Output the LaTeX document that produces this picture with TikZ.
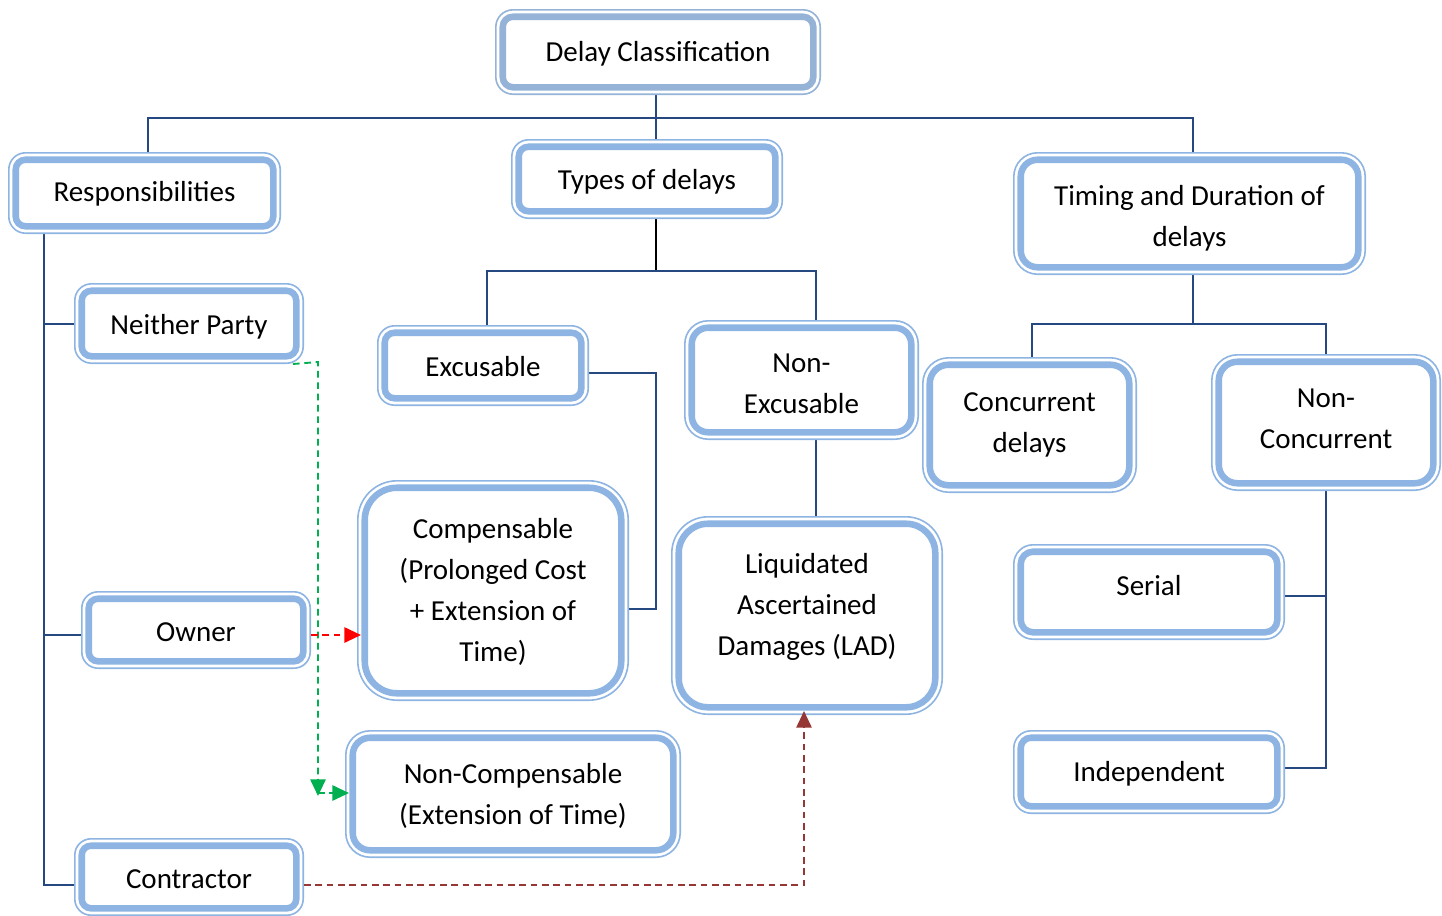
\documentclass[tikz,border=0pt]{standalone}
\usepackage{fontspec}
\setmainfont{Carlito}
\usetikzlibrary{arrows.meta,calc}
\pgfdeclarelayer{bg}
\pgfsetlayers{bg,main}
\definecolor{bandblue}{RGB}{141,180,226}
\definecolor{dcblue}{RGB}{149,179,215}
\definecolor{lineblue}{RGB}{38,72,128}
\definecolor{dgreen}{RGB}{0,176,80}
\definecolor{dred}{RGB}{149,55,53}
\newcommand\bandcol{bandblue}
\tikzset{
  bandcolor/.code={\renewcommand\bandcol{#1}},
  bx/.style n args={3}{
    draw=\bandcol, line width=1.2pt, fill=white, inner sep=0pt,
    minimum width={(#1-1.6)*0.75pt}, minimum height={(#2-1.6)*0.75pt},
    rounded corners={(#3-0.8)*0.75pt},
    path picture={\draw[draw=\bandcol, line width=4.9pt, rounded corners={(#3-7.75)*0.75pt}]
      ($(path picture bounding box.south west)+(5.2pt,5.2pt)$) rectangle
      ($(path picture bounding box.north east)-(5.2pt,5.2pt)$);}
  },
  txt/.style={inner sep=0pt, align=center, font=\fontsize{21.75pt}{30.75pt}\selectfont},
  conn/.style={draw=lineblue, line width=1.4pt},
  connk/.style={draw=black, line width=1.4pt},
  dasharrow/.style={line width=1.4pt, dash pattern=on 5pt off 3.5pt,
    -{Triangle[length=12.5pt,width=11.5pt]}, shorten >=-3pt}
}
\begin{document}
\begin{tikzpicture}[x=0.75pt, y=-0.75pt]
\useasboundingbox (0,0) rectangle (1442,915);

% boxes
\node[bandcolor=dcblue, bx={326}{86}{18}] (dc) at (658,52) {};
\node[bx={273}{82}{17.5}] (resp) at (144.5,193) {};
\node[bx={272}{80}{17.5}] (types) at (647,179) {};
\node[bx={353}{123}{24.5}] (timing) at (1189.5,213.5) {};
\node[bx={230}{81}{17.5}] (np) at (189,323.5) {};
\node[bx={212}{81}{17.5}] (exc) at (483,365.5) {};
\node[bx={235}{120}{24}] (nexc) at (801.5,380) {};
\node[bx={215}{136}{26.5}] (conc) at (1029.5,425) {};
\node[bx={230}{137}{26.5}] (nconc) at (1326,422.5) {};
\node[bx={272}{221}{40}] (comp) at (493,590.5) {};
\node[bx={272}{199}{37}] (lad) at (807,615.5) {};
\node[bx={272}{96}{20}] (serial) at (1149,592) {};
\node[bx={230}{78}{17}] (own) at (196,630) {};
\node[bx={336}{128}{25}] (ncomp) at (513,794) {};
\node[bx={272}{84}{18}] (indep) at (1149,772) {};
\node[bx={230}{78}{17}] (con) at (189,877) {};

% texts
\node[txt] (dc-t) at ($(dc)+(0,2)$) {Delay Classification};
\node[txt] (resp-t) at ($(resp)+(0,1)$) {Responsibilities};
\node[txt] (types-t) at ($(types)+(0,3)$) {Types of delays};
\node[txt] (timing-t) at ($(timing)+(0,5)$) {Timing and Duration of\\delays};
\node[txt] (np-t) at ($(np)+(0,3)$) {Neither Party};
\node[txt] (exc-t) at ($(exc)+(0,1)$) {Excusable};
\node[txt] (nexc-t) at ($(nexc)+(0,4)$) {Non-\\Excusable};
\node[txt] (conc-t) at ($(conc)+(0,0)$) {Concurrent\\delays};
\node[txt] (nconc-t) at ($(nconc)+(0,-4)$) {Non-\\Concurrent};
\node[txt] (comp-t) at ($(comp)+(0,1.5)$) {Compensable\\(Prolonged Cost\\+ Extension of\\Time)};
\node[txt] (lad-t) at ($(lad)+(0,-9)$) {Liquidated\\Ascertained\\Damages (LAD)};
\node[txt] (serial-t) at ($(serial)+(0,-6)$) {Serial};
\node[txt] (own-t) at ($(own)+(0,2)$) {Owner};
\node[txt] (ncomp-t) at ($(ncomp)+(0,2)$) {Non-Compensable\\(Extension of Time)};
\node[txt] (indep-t) at ($(indep)+(0,2)$) {Independent};
\node[txt] (con-t) at ($(con)+(0,2)$) {Contractor};

% junction coordinates
\coordinate (jtop) at (656,118);
\coordinate (jr) at (148,118);
\coordinate (jt) at (1193,118);
\coordinate (jty) at (656,271);
\coordinate (je) at (487,271);
\coordinate (jn) at (816,271);
\coordinate (jx) at (656,373);
\coordinate (jc) at (656,609);
\coordinate (jtm) at (1193,324);
\coordinate (jc1) at (1032,324);
\coordinate (jc2) at (1326,324);
\coordinate (js) at (1326,596);
\coordinate (ji) at (1326,768);
\coordinate (jnp) at (44,324);
\coordinate (jo) at (44,635);
\coordinate (jco) at (44,885);
\coordinate (gs) at (293,362);
\coordinate (gk) at (318,792);
\coordinate (gk2) at (318,793);
\coordinate (dr) at (804,885);

\begin{pgfonlayer}{bg}
  \draw[conn] (dc.south -| jtop) -- (jtop);
  \draw[conn] (resp.north -| jr) -- (jr) -- (jt) -- (timing.north -| jt);
  \draw[conn] (jtop) -- (types.north -| jtop);
  \draw[connk] (types.south -| jty) -- (jty);
  \draw[conn] (exc.north -| je) -- (je) -- (jn) -- (nexc.north -| jn);
  \draw[conn] (exc.east |- jx) -- (jx) -- (jc) -- (comp.east |- jc);
  \draw[conn] (nexc.south -| jn) -- (lad.north -| jn);
  \draw[conn] (timing.south -| jtm) -- (jtm);
  \draw[conn] (conc.north -| jc1) -- (jc1) -- (jc2) -- (nconc.north -| jc2);
  \draw[conn] (nconc.south -| js) -- (ji) -- (indep.east |- ji);
  \draw[conn] (js) -- (serial.east |- js);
  \draw[conn] (resp.south -| jnp) -- (jco) -- (con.west |- jco);
  \draw[conn] (jnp) -- (np.west |- jnp);
  \draw[conn] (jo) -- (own.west |- jo);
\end{pgfonlayer}

% dashed arrows
\draw[dasharrow, draw=dgreen] (np.south -| gs) -- (gk |- gs) -- (gk);
\draw[dasharrow, draw=dgreen] (gk2) -- (ncomp.west |- gk2);
\draw[dasharrow, draw=red] (own.east |- jo) -- (comp.west |- jo);
\draw[dasharrow, draw=dred] (con.east |- dr) -- (dr) -- (lad.south -| dr);
\end{tikzpicture}
\end{document}
